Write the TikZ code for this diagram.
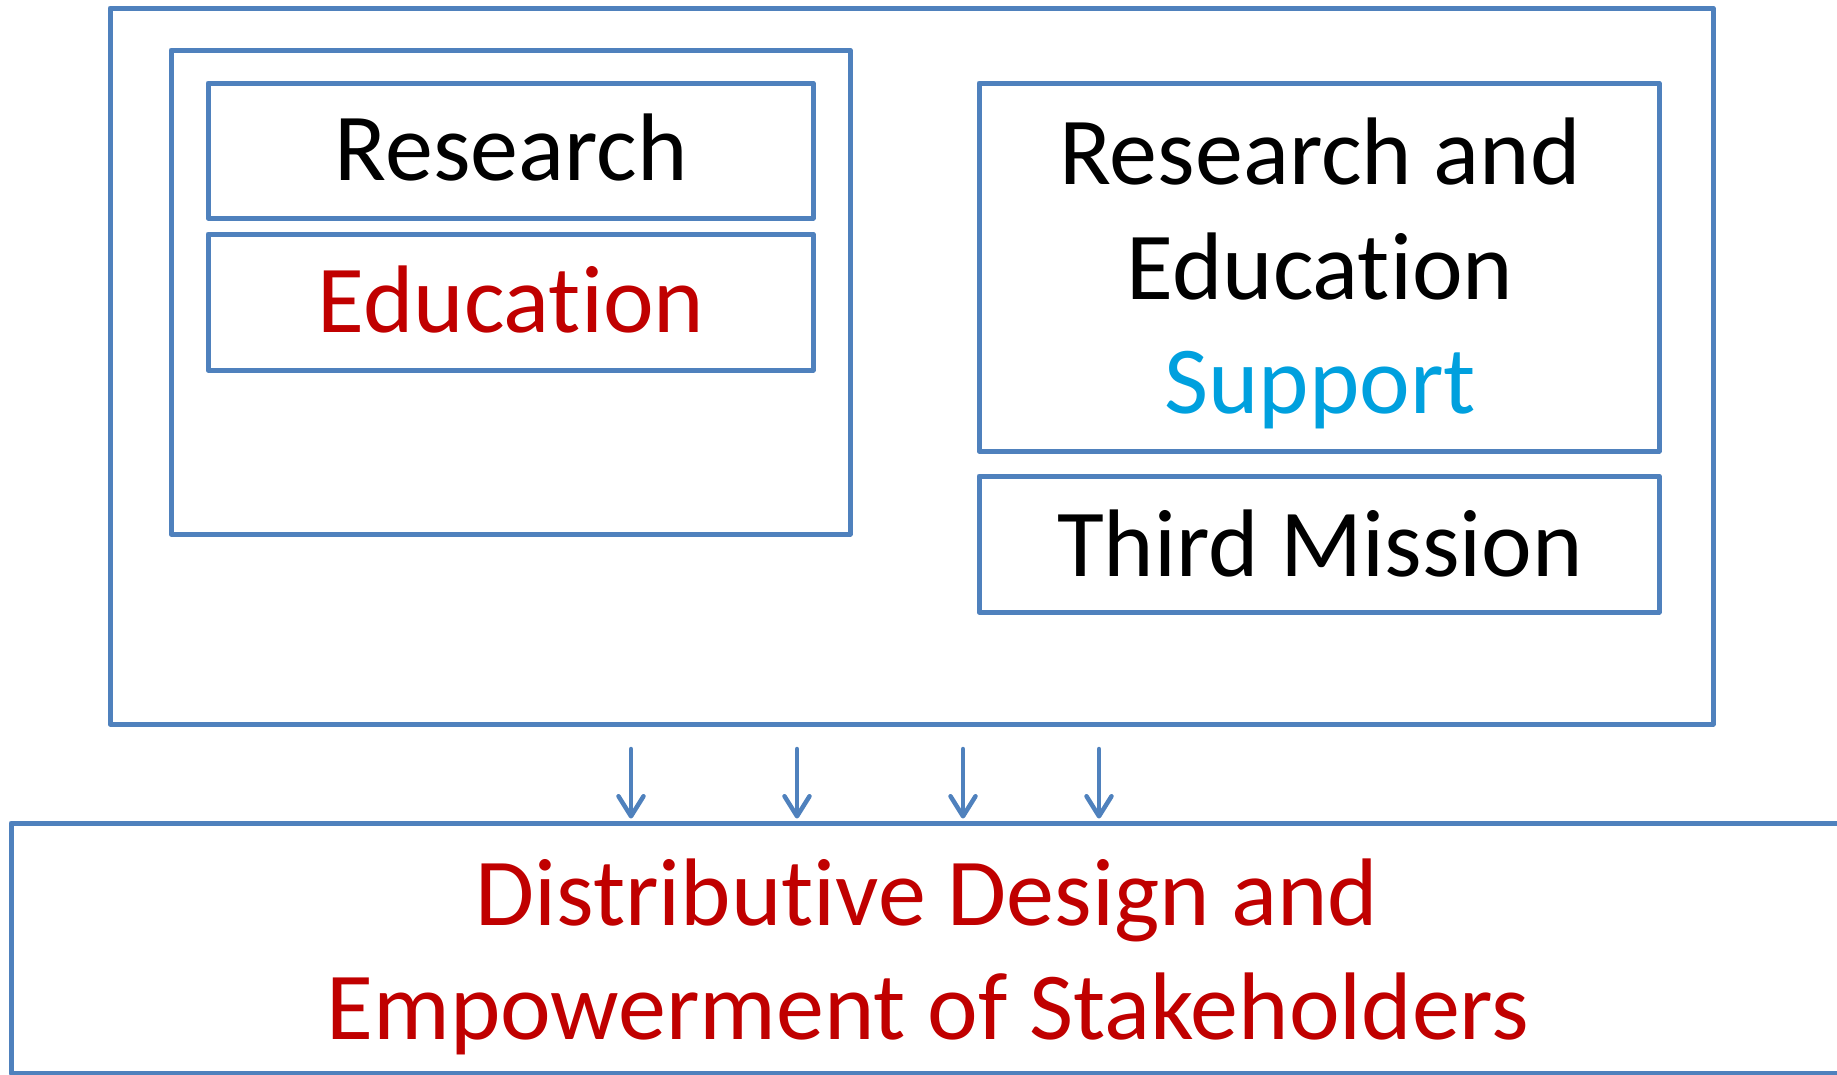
\documentclass[tikz,border=0pt]{standalone}
\usepackage{fontspec}
\setmainfont{Carlito}[RawFeature={-liga}]
\usetikzlibrary{arrows.meta}
\definecolor{frameblue}{RGB}{79,129,189}
\definecolor{darkred}{RGB}{192,0,0}
\definecolor{skyblue}{RGB}{0,160,222}
\tikzset{
  box/.style={draw=frameblue, line width=5pt, line join=round, rectangle, inner sep=0pt},
  label/.style={anchor=base, inner sep=0pt, font=\fontsize{96}{115}\selectfont},
  flow/.style={draw=frameblue, line width=4.5pt, line cap=round,
    -{Straight Barb[round, length=20pt, width=25pt]}}
}
\begin{document}
\begin{tikzpicture}[x=1pt, y=-1pt]
  \useasboundingbox (0,0) rectangle (1837,1074);

  % outer frame and nested boxes
  \node[box, minimum width=1603pt, minimum height=716pt] (outer) at (911.5,366) {};
  \node[box, minimum width=679pt, minimum height=484pt] (left) at (510.5,292) {};
  \node[box, minimum width=605pt, minimum height=135pt] (research) at (510.5,150.5) {};
  \node[box, minimum width=605pt, minimum height=136pt] (education) at (510.5,302) {};
  \node[box, minimum width=680pt, minimum height=368pt] (resedu) at (1319,267) {};
  \node[box, minimum width=680pt, minimum height=136pt] (third) at (1319,544) {};

  % bottom box, running past the right and lower edges
  \node[box, minimum width=1840pt, minimum height=250pt] (bottom) at (931,948) {};

  % texts
  \node[label] (tresearch) at (511,180) {Research};
  \node[label, text=darkred] (teducation) at (511,332) {Education};
  \node[label] (tresline1) at (1320,184) {Research and};
  \node[label] (tresline2) at (1320,299) {Education};
  \node[label, text=skyblue] (tsupport) at (1320,413) {Support};
  \node[label] (tthird) at (1320,576) {Third Mission};
  \node[label, text=darkred] (tbot1) at (927,925) {Distributive Design and};
  \node[label, text=darkred] (tbot2) at (928,1039) {Empowerment of Stakeholders};

  % arrows into the bottom box
  \coordinate (s1) at (631,749);
  \coordinate (s2) at (797,749);
  \coordinate (s3) at (963,749);
  \coordinate (s4) at (1099,749);
  \foreach \s in {s1,s2,s3,s4}
    \draw[flow] (\s) -- ([yshift=2pt]\s |- bottom.north);
\end{tikzpicture}
\end{document}
